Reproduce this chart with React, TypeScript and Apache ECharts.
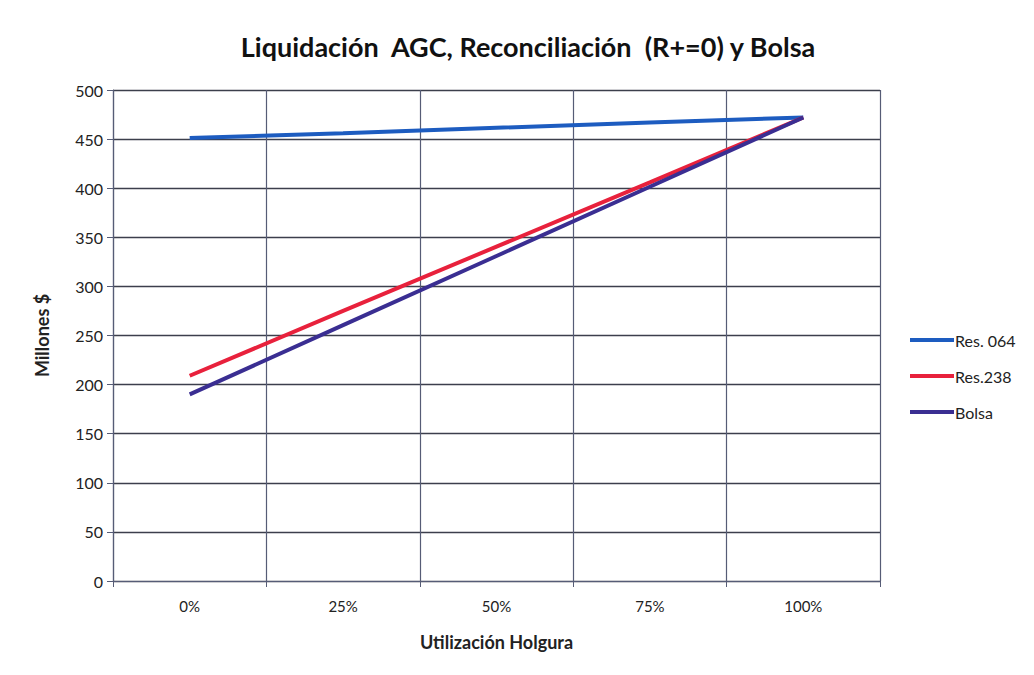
import React, { useEffect, useRef } from "react";
import * as echarts from "echarts";

const categories = ["0%", "25%", "50%", "75%", "100%"];
const res064 = [451, 456, 461.5, 467, 472];
const res238 = [209, 275, 340.5, 406, 472];
const bolsa = [190, 260.5, 331, 401.5, 472];
const yTicks = { min: 0, max: 500, interval: 50 };

const FONT = "Lato, 'Open Sans', sans-serif";

export default function App() {
  const ref = useRef<HTMLDivElement>(null);
  useEffect(() => {
    if (!ref.current) return;
    const chart = echarts.init(ref.current, undefined, { renderer: "svg" });
    const gridColor = "#565c76";
    chart.setOption({
      animation: false,
      backgroundColor: "#ffffff",
      title: {
        text: "Liquidación  AGC, Reconciliación  (R+=0) y Bolsa",
        left: 523,
        textAlign: "center",
        top: 28,
        textStyle: { fontFamily: FONT, fontSize: 27, fontWeight: "bold", color: "#111" },
      },
      grid: { left: 113, right: 154, top: 90, bottom: 94, containLabel: false },
      legend: {
        orient: "vertical",
        left: 905,
        top: 327,
        itemWidth: 44,
        itemHeight: 4,
        itemGap: 20,
        icon: "rect",
        textStyle: { fontFamily: FONT, fontSize: 16, color: "#222", padding: [0, 0, 0, -4] },
        data: ["Res. 064", "Res.238", "Bolsa"],
      },
      xAxis: {
        type: "category",
        data: categories,
        boundaryGap: true,
        name: "Utilización Holgura",
        nameLocation: "middle",
        nameGap: 52,
        nameTextStyle: { fontFamily: FONT, fontSize: 18, fontWeight: "bold", color: "#222" },
        axisLine: { show: true, lineStyle: { color: gridColor, width: 1.2 } },
        axisTick: { show: true, length: 6, lineStyle: { color: gridColor } },
        axisLabel: { fontFamily: FONT, fontSize: 15, color: "#222", margin: 17 },
        splitLine: { show: true, lineStyle: { color: gridColor, width: 1.2 } },
      },
      yAxis: {
        type: "value",
        min: yTicks.min,
        max: yTicks.max,
        interval: yTicks.interval,
        name: "Millones $",
        nameLocation: "middle",
        nameGap: 62,
        nameTextStyle: { fontFamily: FONT, fontSize: 18, fontWeight: "bold", color: "#222" },
        axisLine: { show: true, lineStyle: { color: gridColor, width: 1.2 } },
        axisTick: { show: true, length: 6, lineStyle: { color: gridColor } },
        axisLabel: { fontFamily: FONT, fontSize: 16, color: "#222", margin: 10 },
        splitLine: { show: true, lineStyle: { color: "#3c3f4c", width: 1.4 } },
      },
      series: [
        {
          name: "Res. 064",
          type: "line",
          data: res064,
          symbol: "none",
          lineStyle: { color: "#1d5cc0", width: 4 },
          itemStyle: { color: "#1d5cc0" },
        },
        {
          name: "Res.238",
          type: "line",
          data: res238,
          symbol: "none",
          lineStyle: { color: "#e8213c", width: 4 },
          itemStyle: { color: "#e8213c" },
        },
        {
          name: "Bolsa",
          type: "line",
          data: bolsa,
          symbol: "none",
          lineStyle: { color: "#3a2e92", width: 4 },
          itemStyle: { color: "#3a2e92" },
        },
      ],
    });
    return () => chart.dispose();
  }, []);
  return (
    <div
      ref={ref}
      style={{ width: 1034, height: 675, position: "absolute", left: 0, top: 0 }}
    />
  );
}
